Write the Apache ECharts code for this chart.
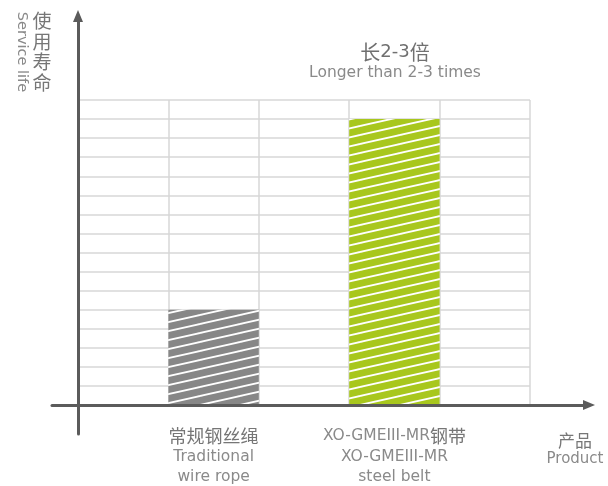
<!DOCTYPE html>
<html>
<head>
<meta charset="utf-8">
<script src="https://cdn.jsdelivr.net/npm/echarts@6/dist/echarts.min.js"></script>
<style>html,body{margin:0;padding:0;background:#fff}#c{width:608px;height:486px}</style>
</head>
<body>
<div id="c"></div>
<script>
const categories = ['', '常规钢丝绳\nTraditional\nwire rope', '', 'XO-GMEIII-MR钢带\nXO-GMEIII-MR\nsteel belt', ''];
const lifeValues = [null, 5, null, 15, null];
const barColors = [null, '#878787', null, '#a8c71d', null];
const yMax = 16;
const titleText = '长2-3倍';
const subtitleText = 'Longer than 2-3 times';
const yNameCn = '使用寿命';
const yNameEn = 'Service life';
const xNameCn = '产品';
const xNameEn = 'Product';

const LATIN = "'DejaVu Sans', 'Noto Sans CJK SC', sans-serif";
const CJK = "'Noto Sans CJK SC', sans-serif";

function toRich(s) {
  return s.replace(/([\u3000-\u9fff]+)/g, '{cn|$1}');
}

function stripePattern(color) {
  const W = 40, H = 9;
  const cv = document.createElement('canvas');
  cv.width = W; cv.height = H;
  const ctx = cv.getContext('2d');
  ctx.fillStyle = color;
  ctx.fillRect(0, 0, W, H);
  ctx.strokeStyle = '#ffffff';
  ctx.lineWidth = 1.8;
  for (const dy of [-H, 0, H]) {
    ctx.beginPath();
    ctx.moveTo(0, H + dy);
    ctx.lineTo(W, 0 + dy);
    ctx.stroke();
  }
  return { image: cv, repeat: 'repeat' };
}

const chart = echarts.init(document.getElementById('c'), null, { renderer: 'canvas' });
const gridLine = { color: '#d7d7d7', width: 1.5 };
const axisColor = '#5b5b5b';
const cjkColor = '#767676';
const latinColor = '#8a8a8a';

chart.setOption({
  animation: false,
  textStyle: { fontFamily: LATIN },
  grid: [
    { left: 78, right: 78, top: 100, bottom: 81, containLabel: false, outerBoundsMode: 'none' },
    { left: 52, right: 19, top: 16, bottom: 52, containLabel: false, outerBoundsMode: 'none' }
  ],
  xAxis: [
    {
      type: 'category', gridIndex: 0, data: categories, boundaryGap: true,
      axisLine: { show: false }, axisTick: { show: false },
      splitLine: { show: true, lineStyle: gridLine },
      axisLabel: {
        interval: 0, color: latinColor, fontSize: 15.5, lineHeight: 20.5, margin: 21, fontFamily: LATIN,
        formatter: v => toRich(v),
        rich: { cn: { fontSize: 18, fontFamily: CJK, color: cjkColor, lineHeight: 20.5 } }
      }
    },
    {
      type: 'value', gridIndex: 1, min: -26, max: 511, z: 10,
      axisLine: { show: true, onZero: true, symbol: ['none', 'triangle'], symbolSize: [10, 12], lineStyle: { color: axisColor, width: 3 } },
      axisTick: { show: false }, axisLabel: { show: false }, splitLine: { show: false }
    }
  ],
  yAxis: [
    {
      type: 'value', gridIndex: 0, min: 0, max: yMax, interval: 1,
      axisLine: { show: false }, axisTick: { show: false }, axisLabel: { show: false },
      splitLine: { show: true, lineStyle: gridLine }
    },
    {
      type: 'value', gridIndex: 1, min: -29, max: 389, z: 10,
      axisLine: { show: true, onZero: true, symbol: ['none', 'triangle'], symbolSize: [10, 12], lineStyle: { color: axisColor, width: 3 } },
      axisTick: { show: false }, axisLabel: { show: false }, splitLine: { show: false }
    }
  ],
  series: [
    {
      type: 'bar', xAxisIndex: 0, yAxisIndex: 0, barWidth: '100%',
      data: lifeValues.map((v, i) => v == null ? '-' : { value: v, itemStyle: { color: stripePattern(barColors[i]) } })
    }
  ],
  graphic: [
    { type: 'text', x: 395, y: 52, style: { text: toRich(titleText), fill: '#707070', fontSize: 18, fontFamily: LATIN, align: 'center', verticalAlign: 'middle',
      rich: { cn: { fontSize: 20, fontFamily: CJK, fill: '#707070' } } } },
    { type: 'text', x: 395, y: 73, style: { text: subtitleText, fill: latinColor, fontSize: 15.5, fontFamily: LATIN, align: 'center', verticalAlign: 'middle' } },
    { type: 'text', x: 42, y: 11, style: { text: yNameCn.split('').join('\n'), fill: cjkColor, fontSize: 19, fontFamily: CJK, lineHeight: 20.5, align: 'center', verticalAlign: 'top' } },
    { type: 'text', x: 22, y: 52, rotation: -Math.PI / 2, style: { text: yNameEn, fill: latinColor, fontSize: 14.5, fontFamily: LATIN, align: 'center', verticalAlign: 'middle' } },
    { type: 'text', x: 575, y: 441, style: { text: xNameCn, fill: cjkColor, fontSize: 17, fontFamily: CJK, align: 'center', verticalAlign: 'middle' } },
    { type: 'text', x: 575, y: 459, style: { text: xNameEn, fill: latinColor, fontSize: 15, fontFamily: LATIN, align: 'center', verticalAlign: 'middle' } }
  ]
});
</script>
</body>
</html>
